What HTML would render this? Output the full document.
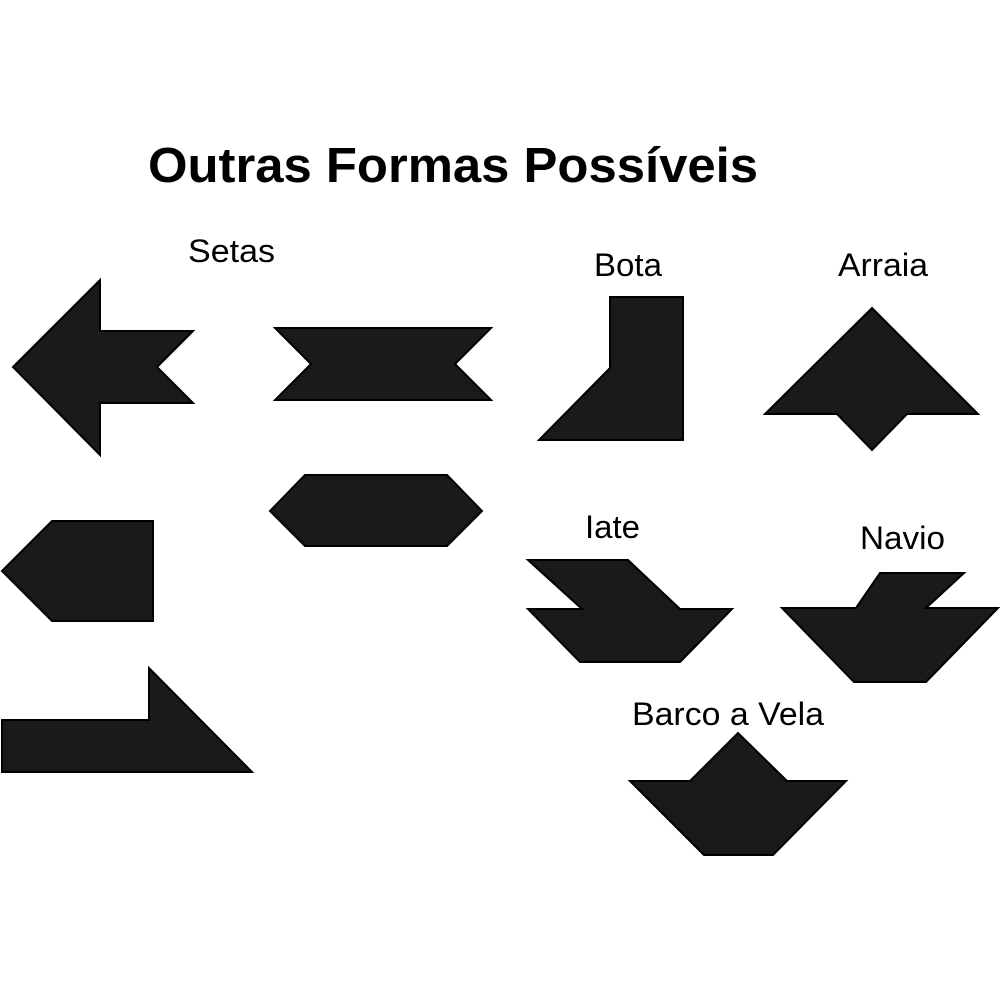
<!DOCTYPE html>
<html><head><style>body{margin:0;background:#fff}</style></head><body>
<svg width="1000" height="1000" viewBox="0 0 1000 1000" xmlns="http://www.w3.org/2000/svg">
<rect width="1000" height="1000" fill="#fff"/>
<g font-family="Liberation Sans, sans-serif" fill="#000">
<text x="148" y="182" font-size="49" font-weight="bold" textLength="610" lengthAdjust="spacingAndGlyphs">Outras Formas Possíveis</text>
<text x="188" y="262" font-size="32" textLength="87" lengthAdjust="spacingAndGlyphs">Setas</text>
<text x="594" y="276" font-size="32" textLength="68" lengthAdjust="spacingAndGlyphs">Bota</text>
<text x="838" y="276" font-size="32" textLength="90" lengthAdjust="spacingAndGlyphs">Arraia</text>
<text x="585" y="538" font-size="32" textLength="55" lengthAdjust="spacingAndGlyphs">Iate</text>
<text x="860" y="549" font-size="32" textLength="85" lengthAdjust="spacingAndGlyphs">Navio</text>
<text x="632" y="725" font-size="32" textLength="192" lengthAdjust="spacingAndGlyphs">Barco a Vela</text>
</g>
<g fill="#1a1a1a" stroke="#000" stroke-width="2" stroke-linejoin="miter">
<polygon points="13,367 100,280 100,331 193,331 157,367 193,403 100,403 100,455"/>
<polygon points="275,328 491,328 455,364 491,400 275,400 311,364"/>
<polygon points="270,511 305,475 447,475 482,511 447,546 305,546"/>
<polygon points="2,571 52,521 153,521 153,621 52,621"/>
<polygon points="2,720 149,720 149,668 252,772 2,772"/>
<polygon points="610,297 683,297 683,440 539,440 610,368"/>
<polygon points="872,308 978,414 907,414 872,450 837,414 765,414"/>
<polygon points="528,560 628,560 680,609 732,609 680,662 580,662 528,609 582,609"/>
<polygon points="880,573 964,573 926,608 998,608 926,682 854,682 782,608 856,608"/>
<polygon points="738,733 787,781 846,781 773,855 704,855 630,781 690,781"/>
</g>
</svg>
</body></html>
